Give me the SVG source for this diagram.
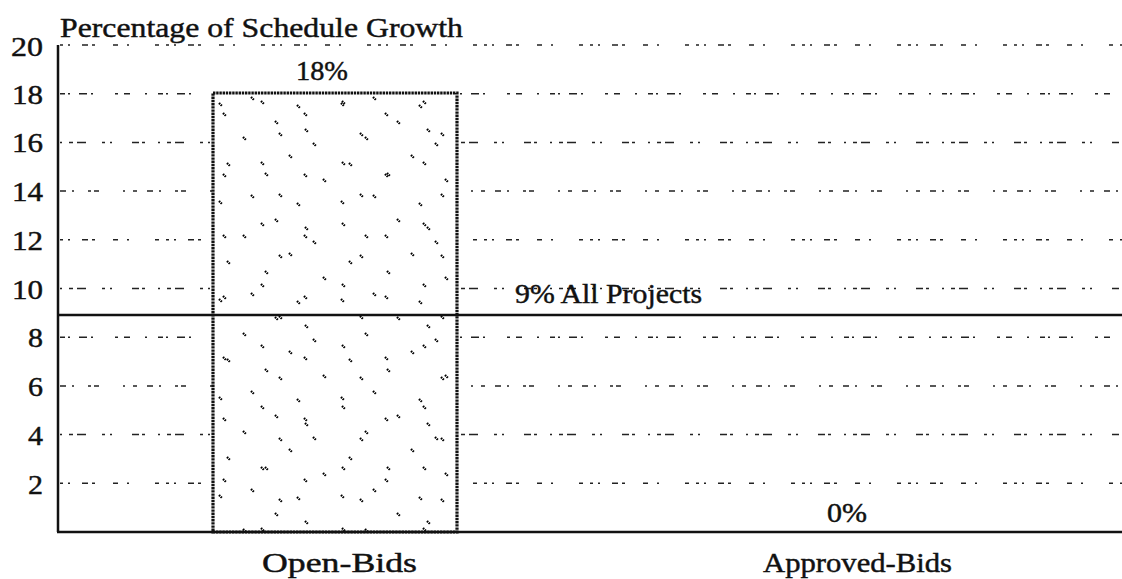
<svg xmlns="http://www.w3.org/2000/svg" width="1122" height="579" viewBox="0 0 1122 579" font-family="'Liberation Serif', 'DejaVu Serif', serif">
  <style>
    text { font-family: 'Liberation Serif', 'DejaVu Serif', serif; font-size: 28px; fill: #111; stroke: #111; stroke-width: 0.45; }
    .grid { stroke: #222; stroke-width: 1.5; fill: none; }
    .g1 { stroke-dasharray: 3 5 2 12 6 4 3 18 5 9 2 26 4 7; }
    .g2 { stroke-dasharray: 5 3 2 9 8 4 2 22 3 6 6 15 2 11; }
    .g3 { stroke-dasharray: 2 7 4 4 9 16 3 5 2 20 7 3 3 13; }
    .g4 { stroke-dasharray: 6 6 2 14 3 3 5 24 2 8 4 10; }
    .axis { stroke: #111; stroke-width: 2.5; fill: none; }
    .tick { stroke: #000; stroke-width: 2.2; stroke-dasharray: 1.6 0.8; }
  </style>
  <defs>
    <!-- scattered diagonal specks used as the bar's hatch -->
    <pattern id="specks" patternUnits="userSpaceOnUse" x="213" y="93" width="122" height="98">
      <g class="tick">
        <line x1="6" y1="10" x2="9" y2="13"/>
        <line x1="38" y1="4" x2="41" y2="7"/>
        <line x1="30" y1="44" x2="33" y2="47"/>
        <line x1="62" y1="28" x2="65" y2="31"/>
        <line x1="84" y1="12" x2="87" y2="15"/>
        <line x1="100" y1="50" x2="103" y2="53"/>
        <line x1="14" y1="70" x2="17" y2="73"/>
        <line x1="52" y1="80" x2="55" y2="83"/>
        <line x1="76" y1="62" x2="79" y2="65"/>
        <line x1="110" y1="86" x2="113" y2="89"/>
        <line x1="92" y1="36" x2="95" y2="39"/>
      </g>
    </pattern>
    <pattern id="specks2" patternUnits="userSpaceOnUse" x="213" y="93" width="81" height="61">
      <g class="tick">
        <line x1="10" y1="20" x2="13" y2="23"/>
        <line x1="48" y1="8" x2="51" y2="11"/>
        <line x1="66" y1="40" x2="69" y2="43"/>
      </g>
    </pattern>
  </defs>

  <!-- horizontal grid lines, 20 down to 2 -->
  <g id="gridlines">
    <line class="grid g1" x1="60" y1="45" x2="1122" y2="45"/>
    <line class="grid g2" x1="60" y1="93.7" x2="1122" y2="93.7"/>
    <line class="grid g3" x1="60" y1="142.4" x2="1122" y2="142.4"/>
    <line class="grid g4" x1="60" y1="191.1" x2="1122" y2="191.1"/>
    <line class="grid g1" x1="60" y1="239.8" x2="1122" y2="239.8"/>
    <line class="grid g3" x1="60" y1="288.5" x2="1122" y2="288.5"/>
    <line class="grid g2" x1="60" y1="337.2" x2="1122" y2="337.2"/>
    <line class="grid g4" x1="60" y1="385.9" x2="1122" y2="385.9"/>
    <line class="grid g3" x1="60" y1="434.6" x2="1122" y2="434.6"/>
    <line class="grid g1" x1="60" y1="483.3" x2="1122" y2="483.3"/>
  </g>

  <!-- Open-Bids bar -->
  <g id="bar-open-bids">
    <rect x="213" y="93" width="244" height="439" fill="#fff"/>
    <rect x="213" y="93" width="244" height="439" fill="url(#specks)"/>
    <rect x="213" y="93" width="244" height="439" fill="url(#specks2)"/>
    <rect x="213" y="93" width="244" height="439" fill="none" stroke="#111" stroke-width="3.2" stroke-dasharray="2.4 0.8"/>
    <text x="296" y="80" textLength="52" lengthAdjust="spacingAndGlyphs">18%</text>
  </g>

  <!-- Approved-Bids value -->
  <g id="bar-approved-bids">
    <text x="827" y="522" textLength="40" lengthAdjust="spacingAndGlyphs">0%</text>
  </g>

  <!-- axes and reference line -->
  <g id="connectors">
    <line class="axis" x1="58" y1="45" x2="58" y2="532"/>
    <line class="axis" x1="57" y1="532" x2="1122" y2="532"/>
    <line id="all-projects-line" class="axis" x1="58" y1="315" x2="1122" y2="315"/>
  </g>

  <g id="all-projects-label">
    <text x="515" y="303" textLength="187" lengthAdjust="spacingAndGlyphs">9% All Projects</text>
  </g>

  <!-- axis title and tick labels -->
  <g id="y-axis">
    <text x="60" y="37" textLength="403" lengthAdjust="spacingAndGlyphs">Percentage of Schedule Growth</text>
    <g text-anchor="end">
      <text x="43" y="56" textLength="32" lengthAdjust="spacingAndGlyphs">20</text>
      <text x="43" y="104" textLength="31" lengthAdjust="spacingAndGlyphs">18</text>
      <text x="43" y="152" textLength="31" lengthAdjust="spacingAndGlyphs">16</text>
      <text x="43" y="201" textLength="31" lengthAdjust="spacingAndGlyphs">14</text>
      <text x="43" y="250" textLength="31" lengthAdjust="spacingAndGlyphs">12</text>
      <text x="43" y="299" textLength="31" lengthAdjust="spacingAndGlyphs">10</text>
      <text x="43" y="347" textLength="15" lengthAdjust="spacingAndGlyphs">8</text>
      <text x="43" y="396" textLength="15" lengthAdjust="spacingAndGlyphs">6</text>
      <text x="43" y="445" textLength="15" lengthAdjust="spacingAndGlyphs">4</text>
      <text x="43" y="494" textLength="15" lengthAdjust="spacingAndGlyphs">2</text>
    </g>
  </g>

  <!-- category labels -->
  <g id="x-axis">
    <text x="262" y="572" textLength="155" lengthAdjust="spacingAndGlyphs">Open-Bids</text>
    <text x="763" y="572" textLength="189" lengthAdjust="spacingAndGlyphs">Approved-Bids</text>
  </g>
</svg>
